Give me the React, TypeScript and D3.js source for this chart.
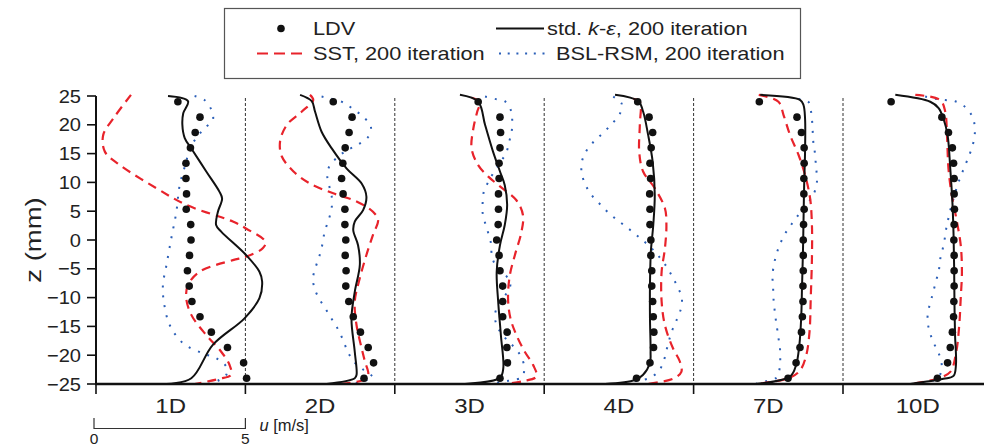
import React from "react";
import * as d3 from "d3";

type P = [number, number]; // [z (mm), u (m/s)]

const panelLabels = ["1D", "2D", "3D", "4D", "7D", "10D"];
const yTicks = [25, 20, 15, 10, 5, 0, -5, -10, -15, -20, -25];
const scaleTicks = [0, 5];

const zLDV = [24, 21.33, 18.67, 16, 13.33, 10.67, 8, 5.33, 2.67, 0, -2.67, -5.33, -8, -10.67, -13.33, -16, -18.67, -21.33, -24];

const ldv1 = [2.74, 3.48, 3.32, 3.16, 3.01, 3.01, 3.03, 3.02, 3.17, 3.18, 3.13, 3.06, 3.12, 3.21, 3.48, 3.86, 4.4, 4.94, 5.04];
const ldv2 = [2.94, 3.57, 3.47, 3.34, 3.26, 3.22, 3.27, 3.33, 3.33, 3.36, 3.34, 3.37, 3.36, 3.46, 3.61, 3.85, 4.11, 4.29, 3.97];
const ldv3 = [2.79, 3.52, 3.54, 3.52, 3.49, 3.49, 3.47, 3.47, 3.46, 3.41, 3.49, 3.52, 3.61, 3.61, 3.61, 3.76, 3.75, 3.77, 3.52];
const ldv4 = [3.13, 3.51, 3.63, 3.58, 3.54, 3.56, 3.53, 3.54, 3.54, 3.57, 3.57, 3.6, 3.6, 3.63, 3.65, 3.67, 3.66, 3.54, 3.09];
const ldv5 = [2.2, 3.46, 3.61, 3.7, 3.7, 3.69, 3.69, 3.7, 3.68, 3.67, 3.67, 3.67, 3.66, 3.66, 3.64, 3.61, 3.56, 3.43, 3.16];
const ldv6 = [1.61, 3.31, 3.53, 3.66, 3.7, 3.72, 3.72, 3.73, 3.72, 3.71, 3.72, 3.72, 3.72, 3.71, 3.7, 3.66, 3.59, 3.5, 3.16];

const ke1: P[] = [[25, 2.41], [24.1, 3.08], [22, 2.92], [20, 2.89], [17.7, 2.97], [15.9, 3.19], [11.9, 3.69], [8.4, 4.13], [7.2, 4.22], [4.9, 4.08], [2.6, 4.02], [1.45, 4.19], [-2.6, 5.02], [-5.5, 5.47], [-7.2, 5.56], [-10.1, 5.47], [-13.6, 4.97], [-18.2, 3.91], [-24, 3.19], [-25, 2.36]];
const ke2: P[] = [[25.2, 1.83], [24.1, 2.22], [22.3, 2.33], [18.8, 2.55], [15.9, 2.89], [12.4, 3.39], [9.8, 3.89], [7.5, 4.05], [5.2, 3.94], [3.2, 3.66], [1.7, 3.61], [-0.9, 3.77], [-4.3, 3.83], [-9, 3.66], [-13.6, 3.55], [-19.4, 3.66], [-23.4, 3.72], [-24, 3.66], [-25, 2.72]];
const ke3: P[] = [[25.2, 2.18], [24, 2.79], [20, 3.02], [15.3, 3.29], [11.9, 3.52], [9.5, 3.68], [6.1, 3.76], [2.6, 3.68], [-0.9, 3.52], [-5.5, 3.41], [-10.7, 3.46], [-16.5, 3.55], [-22.3, 3.63], [-23.9, 3.52], [-25, 2.35]];
const ke4: P[] = [[25.2, 2.37], [24.1, 3.15], [22.3, 3.31], [18.2, 3.48], [13.6, 3.63], [7.8, 3.7], [2.6, 3.65], [-2, 3.57], [-7.8, 3.54], [-13.6, 3.54], [-19.4, 3.56], [-21.3, 3.54], [-23.4, 3.31], [-24.3, 3.04], [-25, 2.04]];
const ke5: P[] = [[25.2, 2.23], [24.3, 3.57], [23.4, 3.68], [21.1, 3.73], [15.3, 3.73], [9.5, 3.7], [3.8, 3.68], [-2, 3.66], [-7.8, 3.63], [-13.6, 3.6], [-18.2, 3.54], [-21.7, 3.43], [-23.7, 3.23], [-25, 2.07]];
const ke6: P[] = [[25.2, 1.75], [24, 2.92], [22.9, 3.2], [21.1, 3.36], [18.2, 3.5], [12.4, 3.59], [6.7, 3.66], [0.9, 3.7], [-4.9, 3.72], [-10.7, 3.73], [-16.5, 3.75], [-21.7, 3.78], [-23.6, 3.7], [-24.1, 3.36], [-25, 2.25]];

const sst1: P[] = [[25.2, 1.17], [21.1, 0.58], [18.2, 0.24], [15.3, 0.3], [13, 0.8], [9, 2.02], [6.1, 3.02], [3.2, 4.58], [2, 5.02], [-0.3, 5.67], [-1.45, 5.58], [-2.9, 5.02], [-3.5, 4.58], [-5.5, 3.47], [-7.8, 3.08], [-10.1, 3.02], [-13, 3.19], [-16.5, 3.69], [-19.4, 4.19], [-21.7, 4.47], [-23.4, 4.52], [-24.1, 4.13], [-25, 3.3]];
const sst2: P[] = [[25.2, 2.16], [24.3, 2.27], [22.3, 1.89], [20, 1.39], [17.1, 1.16], [14.5, 1.22], [11.9, 1.61], [9.8, 2.16], [8.1, 2.94], [6.7, 3.72], [4.9, 4.27], [3.5, 4.44], [0.9, 4.27], [-2.6, 4.05], [-6.6, 3.83], [-10.7, 3.66], [-14.8, 3.72], [-18.8, 3.89], [-21.1, 4], [-23.4, 4.11], [-24.3, 3.94], [-25, 3.16]];
const sst3: P[] = [[24.7, 2.57], [24, 2.85], [22.3, 2.76], [19.4, 2.63], [15.9, 2.57], [13, 2.79], [11, 3.13], [9.3, 3.52], [6.9, 4.07], [4.3, 4.29], [1.45, 4.24], [-2.6, 4.02], [-6.1, 3.85], [-10.1, 3.79], [-13.6, 3.87], [-16.5, 4.07], [-19.4, 4.35], [-21.7, 4.63], [-23.7, 4.74], [-24.5, 4.29], [-25, 3.68]];
const sst4: P[] = [[24.5, 2.98], [24, 3.2], [20, 3.2], [15.3, 3.18], [11.9, 3.31], [9, 3.7], [5.5, 4.04], [2.6, 4.09], [-1.45, 4.04], [-5.5, 3.93], [-10.7, 3.93], [-14.8, 4.04], [-18.8, 4.31], [-21.1, 4.54], [-22.9, 4.59], [-24.1, 4.31], [-25, 3.43]];
const sst5: P[] = [[25.2, 2.18], [24, 2.84], [21.7, 3.01], [18.2, 3.23], [14.8, 3.51], [11.3, 3.73], [7.2, 3.9], [2.6, 3.96], [-3.2, 3.96], [-10.1, 3.92], [-15.9, 3.88], [-20, 3.77], [-22.6, 3.57], [-23.9, 3.23], [-25, 2.12]];
const sst6: P[] = [[25.2, 2.42], [24.3, 3.25], [22.3, 3.42], [18.2, 3.48], [12.4, 3.53], [7.8, 3.64], [3.8, 3.79], [-0.9, 3.94], [-5.5, 3.98], [-10.1, 3.94], [-14.8, 3.89], [-19.4, 3.79], [-22.9, 3.59], [-24.1, 3.14], [-25, 2.25]];

const bsl1: P[] = [[25, 3.3], [24.3, 3.63], [22.6, 3.86], [20.8, 3.91], [19.4, 3.63], [17.7, 3.36], [15.9, 3.13], [13.6, 3.02], [9.5, 2.8], [4.9, 2.69], [0.3, 2.52], [-4.3, 2.36], [-7.8, 2.24], [-10.7, 2.27], [-14.8, 2.47], [-17.9, 2.91], [-19.7, 3.58], [-20.5, 4.02], [-22, 4.36], [-23.4, 4.36], [-24.3, 4.13], [-25, 3.74]];
const bsl2: P[] = [[24.9, 2.55], [23.9, 3.27], [22.7, 3.61], [21.4, 3.94], [19.7, 4.2], [17.9, 4.11], [16.5, 3.75], [15.6, 3.41], [14.5, 3.11], [12.8, 2.81], [11.1, 2.74], [9.3, 2.81], [7.5, 2.89], [5.7, 2.89], [3.9, 2.81], [2.2, 2.7], [0.4, 2.61], [-1.45, 2.55], [-3.2, 2.45], [-4.9, 2.34], [-6.7, 2.26], [-8.5, 2.32], [-10.2, 2.47], [-12, 2.69], [-13.8, 2.9], [-15.6, 3.11], [-17.4, 3.27], [-19.2, 3.41], [-21, 3.61], [-22.5, 3.94], [-23.9, 4.27], [-24.5, 3.94], [-25, 3.61]];
const bsl3: P[] = [[24.9, 3.02], [24.5, 3.35], [24.1, 3.68], [22.6, 3.88], [20.8, 3.93], [18.8, 3.91], [17.1, 3.83], [15.3, 3.74], [13.6, 3.55], [11.9, 3.33], [10.1, 3.13], [8.4, 2.98], [6.5, 2.94], [4.7, 2.94], [3, 3.02], [1.16, 3.13], [-0.6, 3.22], [-2.3, 3.24], [-4.2, 3.35], [-5.9, 3.68], [-7.7, 3.87], [-9.4, 3.72], [-11.3, 3.46], [-13, 3.35], [-14.8, 3.41], [-16.5, 3.61], [-18.3, 3.94], [-20.1, 4.21], [-22, 4.33], [-23.8, 4.26], [-24.3, 3.93], [-24.6, 3.61], [-25, 3.24]];
const bsl4: P[] = [[24.9, 2.31], [23.7, 2.59], [22, 2.54], [20.3, 2.29], [18.5, 1.95], [16.8, 1.61], [15.1, 1.37], [13.3, 1.25], [11.5, 1.26], [9.7, 1.37], [7.9, 1.57], [6.2, 1.87], [4.5, 2.2], [3.1, 2.54], [1.7, 2.89], [0.2, 3.24], [-1.3, 3.57], [-3.2, 3.89], [-4.9, 4.13], [-6.6, 4.31], [-8.5, 4.5], [-10.2, 4.61], [-12, 4.57], [-13.8, 4.44], [-15.6, 4.29], [-17.4, 4.18], [-19.2, 4.09], [-21, 4], [-22.7, 3.84], [-24, 3.51], [-24.6, 2.85], [-25, 2.5]];
const bsl5: P[] = [[24.5, 3.51], [24, 3.84], [22.3, 3.93], [20.4, 3.97], [18.5, 3.99], [16.8, 4.01], [15.1, 4.06], [13.2, 4.09], [11.4, 4.12], [9.7, 4.12], [7.9, 4.01], [6.2, 3.79], [4.5, 3.53], [2.6, 3.26], [0.9, 3.04], [-1, 2.87], [-2.7, 2.76], [-4.5, 2.68], [-6.3, 2.64], [-8.1, 2.66], [-9.9, 2.67], [-11.6, 2.7], [-13.4, 2.74], [-15.2, 2.79], [-17, 2.84], [-18.8, 2.89], [-20.5, 2.9], [-22.3, 2.88], [-23.9, 2.77], [-24.5, 2.43], [-25, 2.07]];
const bsl6: P[] = [[24.9, 2.75], [24.5, 3.09], [24.3, 3.42], [24.1, 3.75], [23.1, 4.09], [21.4, 4.33], [19.7, 4.41], [17.9, 4.4], [16.1, 4.32], [14.4, 4.2], [12.6, 4.06], [10.8, 3.92], [9, 3.8], [7.2, 3.7], [5.4, 3.6], [3.6, 3.52], [1.85, 3.45], [0.1, 3.4], [-1.7, 3.33], [-3.4, 3.25], [-5.2, 3.21], [-7, 3.12], [-8.8, 3.03], [-10.6, 2.94], [-12.4, 2.85], [-14.1, 2.83], [-15.9, 2.9], [-17.7, 3.02], [-19.4, 3.18], [-21.1, 3.29], [-22.9, 3.29], [-24, 3.14], [-25, 2.73]];

const ldvSeries = [ldv1, ldv2, ldv3, ldv4, ldv5, ldv6];
const keSeries = [ke1, ke2, ke3, ke4, ke5, ke6];
const sstSeries = [sst1, sst2, sst3, sst4, sst5, sst6];
const bslSeries = [bsl1, bsl2, bsl3, bsl4, bsl5, bsl6];

const W = 984;
const H = 448;
const FONT = "'Liberation Sans', Arial, Helvetica, sans-serif";
const RED = "#e8232b";
const BLUE = "#2b5fb8";
const BLACK = "#111";
const PANEL_SPAN = 5;

export default function App() {
  const x = d3.scaleLinear().domain([0, PANEL_SPAN * 6]).range([96, 96 + 6 * 149.4]);
  const y = d3.scaleLinear().domain([-25, 25]).range([384, 96]);
  const fmt = d3.format("");

  const lineGen = (i: number) =>
    d3
      .line<P>()
      .x((d) => x(PANEL_SPAN * i + d[1]))
      .y((d) => y(d[0]))
      .curve(d3.curveCatmullRom.alpha(0.5));

  return (
    <svg
      width={W}
      height={H}
      viewBox={`0 0 ${W} ${H}`}
      style={{ position: "absolute", left: 0, top: 0, background: "#fff" }}
      fontFamily={FONT}
    >
      <rect x={0} y={0} width={W} height={H} fill="#fff" />

      {/* legend */}
      <rect x={224.5} y={8.5} width={576} height={70} fill="#fff" stroke="#555" strokeWidth={1.2} />
      <circle cx={281} cy={28.5} r={3.8} fill={BLACK} />
      <text transform="translate(313,35) scale(1.17,1)" fontSize={18.6} fill="#222">LDV</text>
      <line x1={496} x2={544} y1={28.5} y2={28.5} stroke={BLACK} strokeWidth={2} />
      <text transform="translate(547,35) scale(1.17,1)" fontSize={18.6} fill="#222">
        std. <tspan fontStyle="italic">k</tspan>-<tspan fontStyle="italic">ε</tspan>, 200 iteration
      </text>
      <line x1={257} x2={302} y1={53.5} y2={53.5} stroke={RED} strokeWidth={2} strokeDasharray="11 6" />
      <text transform="translate(313,60) scale(1.17,1)" fontSize={18.6} fill="#222">SST, 200 iteration</text>
      <line x1={499} x2={545} y1={53.5} y2={53.5} stroke={BLUE} strokeWidth={2} strokeDasharray="2 6.7" />
      <text transform="translate(556,60) scale(1.17,1)" fontSize={18.6} fill="#222">BSL-RSM, 200 iteration</text>

      {/* y axis */}
      <line x1={x(0)} x2={x(0)} y1={y(25)} y2={y(-25)} stroke={BLACK} strokeWidth={2} />
      {yTicks.map((t) => (
        <g key={t}>
          <line x1={x(0) - 9} x2={x(0)} y1={y(t)} y2={y(t)} stroke={BLACK} strokeWidth={1.6} />
          <text
            transform={`translate(${x(0) - 15},${y(t) + 6.6}) scale(1.08,1)`}
            fontSize={18.6}
            textAnchor="end"
            fill="#222"
          >
            {fmt(t)}
          </text>
        </g>
      ))}
      <text transform={`translate(41,${y(0)}) rotate(-90) scale(1.25,1)`} fontSize={22} textAnchor="middle" fill="#222">
        z (mm)
      </text>

      {/* panel separators */}
      {panelLabels.slice(1).map((_, i) => (
        <line
          key={"sep" + i}
          x1={x(PANEL_SPAN * (i + 1))}
          x2={x(PANEL_SPAN * (i + 1))}
          y1={y(25) + 2}
          y2={y(-25)}
          stroke="#333"
          strokeWidth={1}
          strokeDasharray="3 2"
        />
      ))}

      {/* curves */}
      {bslSeries.map((s, i) => (
        <path key={"bsl" + i} d={lineGen(i)(s) || ""} fill="none" stroke={BLUE} strokeWidth={2} strokeDasharray="2 8" />
      ))}
      {sstSeries.map((s, i) => (
        <path key={"sst" + i} d={lineGen(i)(s) || ""} fill="none" stroke={RED} strokeWidth={2.2} strokeDasharray="9 6" />
      ))}
      {ldvSeries.map((s, i) =>
        s.map((u, k) => (
          <circle key={`ldv${i}-${k}`} cx={x(PANEL_SPAN * i + u)} cy={y(zLDV[k])} r={3.8} fill={BLACK} />
        ))
      )}
      {keSeries.map((s, i) => (
        <path key={"ke" + i} d={lineGen(i)(s) || ""} fill="none" stroke={BLACK} strokeWidth={2} />
      ))}

      {/* bottom axis */}
      <line x1={x(0) - 1} x2={W} y1={y(-25)} y2={y(-25)} stroke={BLACK} strokeWidth={2.6} />
      {panelLabels.map((lab, i) => (
        <g key={lab}>
          <line x1={x(PANEL_SPAN * i)} x2={x(PANEL_SPAN * i)} y1={y(-25)} y2={y(-25) + 10} stroke={BLACK} strokeWidth={1.6} />
          <text
            transform={`translate(${x(PANEL_SPAN * i + PANEL_SPAN / 2)},413) scale(1.2,1)`}
            fontSize={20}
            textAnchor="middle"
            fill="#222"
          >
            {lab}
          </text>
        </g>
      ))}

      {/* scale bar */}
      <line x1={x(0) - 2} x2={x(5)} y1={428.5} y2={428.5} stroke="#333" strokeWidth={1.2} />
      {scaleTicks.map((t) => (
        <g key={"sb" + t}>
          <line x1={x(t) - (t === 0 ? 2 : 0)} x2={x(t) - (t === 0 ? 2 : 0)} y1={418} y2={429} stroke="#333" strokeWidth={1.2} />
          <text x={x(t) - (t === 0 ? 2 : 0)} y={444} fontSize={15.5} textAnchor="middle" fill="#222">
            {t}
          </text>
        </g>
      ))}
      <text x={x(5) + 14} y={431} fontSize={16.5} fill="#222">
        <tspan fontStyle="italic">u</tspan> [m/s]
      </text>
    </svg>
  );
}
